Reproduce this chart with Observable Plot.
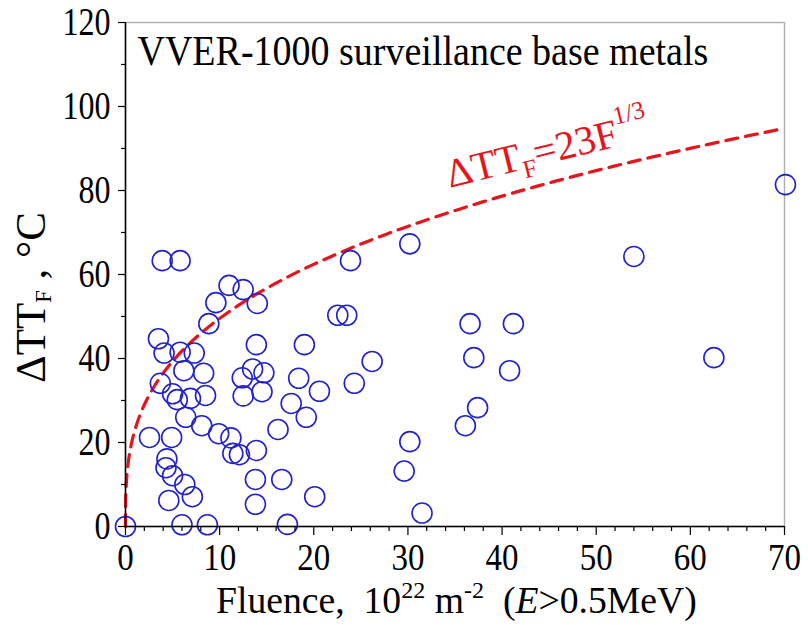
<!DOCTYPE html>
<html><head><meta charset="utf-8">
<script src="https://cdn.jsdelivr.net/npm/d3@7"></script>
<script src="https://cdn.jsdelivr.net/npm/@observablehq/plot@0.6"></script>
<style>
body{margin:0;background:#fff}
#chart svg text{white-space:pre}
</style>
</head><body><div id="chart"></div>
<script>
// Data
const fluence = [0, 2.55, 3.5, 3.9, 5.8, 3.7, 4.1, 5.8, 7.3, 6.2, 8.3, 5.0, 5.5, 6.9, 8.5, 6.4, 8.1, 9.9, 11.2, 4.9,
  4.4, 4.3, 5.0, 4.6, 7.1, 6.0, 8.7, 8.85, 9.6, 11.0, 12.5, 14.0, 13.9, 12.4, 13.5, 14.7, 12.5, 14.5, 11.4, 12.1,
  13.9, 13.8, 13.8, 16.2, 16.6, 17.2, 17.6, 18.4, 19.0, 19.2, 20.1, 20.6, 22.55, 23.5, 23.9, 24.3, 26.2, 30.2, 30.2, 29.6,
  31.5, 36.6, 37.0, 37.4, 36.1, 41.2, 40.8, 54.0, 62.5, 70.1, 6.3];
const shift = [0, 21.2, 44.7, 63.3, 63.3, 34.1, 41.3, 41.5, 41.3, 37.1, 36.5, 31.6, 30.2, 30.5, 31.2, 26, 24, 22.1, 21.1, 21.2,
  16.1, 14, 12.1, 6.2, 7.1, 0.4, 0.4, 48.3, 53.3, 57.4, 56.4, 53.1, 43.3, 35.4, 37.5, 36.6, 31.1, 32.1, 17.4, 17.1,
  18.1, 11.2, 5.3, 23.1, 11.2, 0.5, 29.3, 35.3, 43.3, 26, 7.1, 32.2, 50.3, 50.3, 63.3, 34.1, 39.3, 67.3, 20.2, 13.2,
  3.2, 48.3, 40.2, 28.3, 24.0, 48.3, 37.1, 64.3, 40.2, 81.4, 10];
const xTicks = [0, 10, 20, 30, 40, 50, 60, 70];
const xMinor = [2, 4, 6, 8, 12, 14, 16, 18, 22, 24, 26, 28, 32, 34, 36, 38, 42, 44, 46, 48, 52, 54, 56, 58, 62, 64, 66, 68];
const yTicks = [0, 20, 40, 60, 80, 100, 120];
const yMinor = [10, 30, 50, 70, 90, 110];
// Trend stated on the chart: dTT_F = 23 F^(1/3)
const trendCoef = 23;
const trendExp = 1 / 3;
const titleText = "VVER-1000 surveillance base metals";
const annotAnchor = [34.5, 80.5]; // data position of the equation label start

const points = fluence.map((f, i) => ({F: f, T: shift[i]}));
const trendF = d3.range(0, 200).map(i => Math.pow(i / 199, 3) * 70);
const trend = trendF.map(f => ({F: f, T: trendCoef * Math.pow(f, trendExp)}));

const serif = "'Liberation Serif', 'Times New Roman', serif";
const red = "#e8141c";
const blue = "#2121cf";

const plot = Plot.plot({
  width: 808, height: 625,
  marginLeft: 125, marginRight: 24, marginTop: 22, marginBottom: 99,
  style: {fontFamily: serif, fontSize: "32px", color: "#000", background: "#fff", overflow: "visible"},
  x: {domain: [0, 70], label: null},
  y: {domain: [0, 120], label: null},
  marks: [
    Plot.frame({stroke: "#b0b0b0", strokeWidth: 1.5}),
    Plot.line(trend, {x: "F", y: "T", stroke: red, strokeWidth: 3.2, strokeDasharray: "12,8"}),
    Plot.dot(points, {x: "F", y: "T", r: 10, stroke: blue, strokeWidth: 1.6, fill: "none"}),
    Plot.ruleY([0], {stroke: "#000", strokeWidth: 1.5}),
    Plot.ruleX([0], {stroke: "#000", strokeWidth: 1.5}),
    Plot.axisX({ticks: xTicks, tickSize: 9, tickPadding: 10, fontSize: 33, label: null, strokeWidth: 1.2}),
    Plot.axisX({ticks: xMinor, tickSize: 5, tickFormat: () => "", label: null, strokeWidth: 1.2}),
    Plot.axisY({ticks: yTicks, tickSize: 7, tickPadding: 8, fontSize: 32, label: null, strokeWidth: 1.2}),
    Plot.axisY({ticks: yMinor, tickSize: 4, tickFormat: () => "", label: null, strokeWidth: 1.2}),
    Plot.text([titleText], {frameAnchor: "top-left", dx: 12, dy: 14, fontSize: 38, textAnchor: "start", lineAnchor: "top", fill: "#000"})
  ]
});
document.getElementById("chart").appendChild(plot);

const svg = d3.select(plot);
const sx = plot.scale("x"), sy = plot.scale("y");

// Stretch tick labels vertically (the reference glyphs are tall and narrow)
function stretch(sel, k) {
  sel.each(function () {
    if (!this.textContent) return;
    const b = this.getBBox();
    const cx = b.x + b.width / 2, cy = b.y + b.height / 2;
    const t = this.getAttribute("transform") || "";
    this.setAttribute("transform", `${t} translate(${cx},${cy}) scale(1,${k}) translate(${-cx},${-cy})`);
  });
}
stretch(svg.selectAll('g[aria-label="y-axis tick label"] text'), 1.25);
stretch(svg.selectAll('g[aria-label="x-axis tick label"] text'), 1.12);
stretch(svg.selectAll('g[aria-label="text"] text'), 1.1);

// Fit a label's font size so its advance matches a target length
function fit(sel, base, target) {
  const L = sel.node().getComputedTextLength();
  if (L > 0) {
    const k = target / L;
    sel.attr("font-size", base * k);
    sel.selectAll("tspan").each(function () {
      const fs = this.getAttribute("font-size");
      if (fs) this.setAttribute("font-size", +fs * k);
      const dy = this.getAttribute("dy");
      if (dy) this.setAttribute("dy", +dy * k);
    });
  }
}

// Equation label
const ax = sx.apply(annotAnchor[0]), ay = sy.apply(annotAnchor[1]);
const eq = svg.append("text")
  .attr("transform", `translate(${ax},${ay}) rotate(-14)`)
  .attr("text-anchor", "start")
  .attr("font-family", serif).attr("font-size", 40).attr("fill", red);
eq.append("tspan").text("\u0394TT");
eq.append("tspan").attr("font-size", 25).attr("dy", 9).text("F");
eq.append("tspan").attr("dy", -9).text("=23F");
eq.append("tspan").attr("font-size", 25).attr("dy", -21).text("1/3");
fit(eq, 40, 208);

// X axis label
const xl = svg.append("text")
  .attr("x", 216).attr("y", 613)
  .attr("text-anchor", "start").attr("font-family", serif).attr("font-size", 37.5).attr("fill", "#000");
xl.append("tspan").text("Fluence,  10");
xl.append("tspan").attr("font-size", 24).attr("dy", -15).text("22");
xl.append("tspan").attr("dy", 15).text(" m");
xl.append("tspan").attr("font-size", 24).attr("dy", -15).text("-2");
xl.append("tspan").attr("dy", 15).text("  (");
xl.append("tspan").attr("font-style", "italic").text("E");
xl.append("tspan").text(">0.5MeV)");
fit(xl, 37.5, 481);

// Y axis label
const yl = svg.append("text")
  .attr("transform", `translate(45,383) rotate(-90)`)
  .attr("text-anchor", "start").attr("font-family", serif).attr("font-size", 42).attr("fill", "#000");
yl.append("tspan").text("\u0394TT");
yl.append("tspan").attr("font-size", 22).attr("dy", 6).text("F");
yl.append("tspan").attr("dy", -6).text(" , \u00B0C");
fit(yl, 42, 171);
</script>
</body></html>
